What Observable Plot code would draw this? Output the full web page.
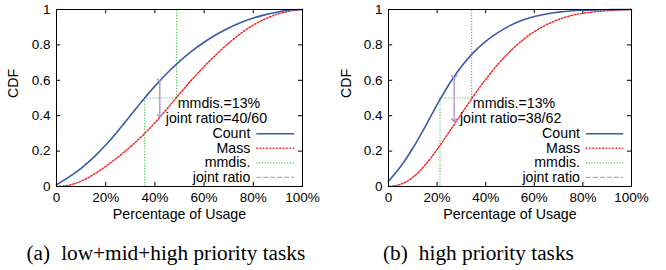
<!DOCTYPE html>
<html><head><meta charset="utf-8">
<script src="https://cdn.jsdelivr.net/npm/d3@7"></script>
<script src="https://cdn.jsdelivr.net/npm/@observablehq/plot@0.6"></script>
<style>
body{margin:0;background:#fff;width:666px;height:270px;position:relative;overflow:hidden}
#row{display:flex;position:absolute;left:0;top:0}
.cap{position:absolute;top:241px;font-family:"Liberation Serif","Times New Roman",serif;font-size:21.3px;line-height:24px;white-space:nowrap;color:#000}
.cap .lab{margin-right:11px}
</style></head><body>
<div id="row"></div>
<div class="cap" id="capA"></div>
<div class="cap" id="capB"></div>
<script>
// ---- data ----
const usagePct = [0,5,10,15,20,25,30,35,40,45,50,55,60,65,70,75,80,85,90,95,100];
const countA = [0.01,0.053,0.103,0.163,0.234,0.314,0.40,0.486,0.567,0.641,0.707,0.765,0.815,0.859,0.896,0.927,0.952,0.971,0.986,0.997,1];
const massA  = [0,0.0075,0.03,0.067,0.114,0.1665,0.224,0.288,0.36,0.44,0.523,0.603,0.678,0.747,0.81,0.866,0.912,0.948,0.975,0.992,1];
const countB = [0.03,0.1125,0.216,0.336,0.4625,0.579,0.6775,0.7575,0.82,0.8695,0.909,0.939,0.96,0.975,0.985,0.9915,0.9955,0.998,0.999,1,1];
const massB  = [0,0.0125,0.0525,0.12,0.209,0.309,0.411,0.511,0.605,0.69,0.763,0.825,0.875,0.914,0.9435,0.965,0.979,0.9875,0.993,0.997,1];

const mmdisLow  = [35.8, 21.2];   // usage where Count CDF = 0.5
const mmdisHigh = [48.8, 34.2];   // usage where Mass CDF = 0.5
const jointX      = [42, 27];
const jointTop    = [0.60, 0.62];
const jointBottom = [0.40, 0.375];
const mmdisText = ["mmdis.=13%", "mmdis.=13%"];
const jointText = ["joint ratio=40/60", "joint ratio=38/62"];
const captionLabels = ["(a)", "(b)"];
const captionTexts = ["low+mid+high priority tasks", "high priority tasks"];

const xTicks = [0,20,40,60,80,100];
const xTickLabels = ["0","20%","40%","60%","80%","100%"];
const yTicks = [0,0.2,0.4,0.6,0.8,1];
const yTickLabels = ["0","0.2","0.4","0.6","0.8","1"];
const legendLabels = ["Count","Mass","mmdis.","joint ratio"];
const xLabel = "Percentage of Usage";
const yLabel = "CDF";

// ---- styles ----
const sty = {
  Count: {stroke:"#3a5aad", strokeWidth:1.6},
  Mass: {stroke:"#ff1a1a", strokeWidth:1.4, strokeDasharray:"1.6,1.7"},
  "mmdis.": {stroke:"#4cc84c", strokeWidth:1.2, strokeDasharray:"1.2,1.6"},
  "joint ratio": {stroke:"#b8a3d6", strokeWidth:1.3, strokeDasharray:"5,2"}
};
const font = "'Liberation Sans', Arial, Helvetica, sans-serif";

function panel(i, count, mass, mL, mR) {
  const cData = usagePct.map((u,k)=>({u, v:count[k]}));
  const mData = usagePct.map((u,k)=>({u, v:mass[k]}));
  const tickLenY = 0.024, tickLenX = 1.7;
  const inner = [1,2,3,4];
  const legMarks = [];
  legendLabels.forEach((lab, k) => {
    const y = 0.298 - k*0.082;
    legMarks.push(Plot.text([lab], {x: 78.8, y, text: d=>d, textAnchor:"end", fontSize:14.2, fill:"#000"}));
    legMarks.push(Plot.ruleY([y], {x1: 81.4, x2: 96.8, ...sty[lab]}));
  });
  return Plot.plot({
    width: 333, height: 225,
    marginLeft: mL, marginRight: mR, marginTop: 9, marginBottom: 39,
    style: {fontFamily: font, fontSize: "13.5px", background: "#fff", color: "#000", overflow: "visible"},
    x: {domain: [0,100]},
    y: {domain: [0,1]},
    marks: [
      // mirrored inside ticks
      Plot.ruleX(inner.map(j=>xTicks[j]), {y1: 0, y2: tickLenY, stroke:"#000", strokeWidth:1}),
      Plot.ruleX(inner.map(j=>xTicks[j]), {y1: 1-tickLenY, y2: 1, stroke:"#000", strokeWidth:1}),
      Plot.ruleY(inner.map(j=>yTicks[j]), {x1: 0, x2: tickLenX, stroke:"#000", strokeWidth:1}),
      Plot.ruleY(inner.map(j=>yTicks[j]), {x1: 100-tickLenX, x2: 100, stroke:"#000", strokeWidth:1}),
      Plot.axisX({ticks: xTicks, tickFormat: (d)=>xTickLabels[xTicks.indexOf(d)], tickSize: 0, tickPadding: 6, label: null}),
      Plot.axisY({ticks: yTicks, tickFormat: (d)=>yTickLabels[yTicks.indexOf(d)], tickSize: 0, tickPadding: 6, label: null}),
      // mmdis path
      Plot.ruleX([mmdisLow[i]], {y1: 0, y2: 0.5, ...sty["mmdis."]}),
      Plot.ruleY([0.5], {x1: mmdisLow[i], x2: mmdisHigh[i], ...sty["mmdis."]}),
      Plot.ruleX([mmdisHigh[i]], {y1: 0.5, y2: 1, ...sty["mmdis."]}),
      // curves
      Plot.line(mData, {x:"u", y:"v", curve:"monotone-x", ...sty.Mass}),
      Plot.line(cData, {x:"u", y:"v", curve:"monotone-x", ...sty.Count}),
      // joint ratio arrow
      Plot.link([0], {x1: ()=>jointX[i], x2: ()=>jointX[i], y1: ()=>jointTop[i], y2: ()=>jointBottom[i],
        stroke:"#a98bcf", strokeWidth:1.3, markerStart:"arrow", markerEnd:"arrow"}),
      // annotations
      Plot.text([mmdisText[i]], {x: mmdisHigh[i]+0.5, y: 0.468, text: d=>d, textAnchor:"start", fontSize:14.2, fill:"#000"}),
      Plot.text([jointText[i]], {x: jointX[i]+2.4, y: 0.384, text: d=>d, textAnchor:"start", fontSize:14.2, fill:"#000"}),
      ...legMarks,
      // axis labels
      Plot.text([xLabel], {frameAnchor:"bottom", dy: 32, text: d=>d, fontSize:14.2, fill:"#000"}),
      Plot.text([yLabel], {frameAnchor:"left", dx: -(mL-13), rotate: -90, text: d=>d, fontSize:14.2, fill:"#000"}),
      Plot.frame({stroke:"#000", strokeWidth:1})
    ]
  });
}

const row = document.getElementById("row");
row.appendChild(panel(0, countA, massA, 56, 31));
row.appendChild(panel(1, countB, massB, 55, 35));

const capA = document.getElementById("capA");
capA.style.left = "26.5px";
capA.innerHTML = `<span class="lab">${captionLabels[0]}</span>${captionTexts[0]}`;
const capB = document.getElementById("capB");
capB.style.left = "383px";
capB.innerHTML = `<span class="lab">${captionLabels[1]}</span>${captionTexts[1]}`;
</script>
</body></html>
